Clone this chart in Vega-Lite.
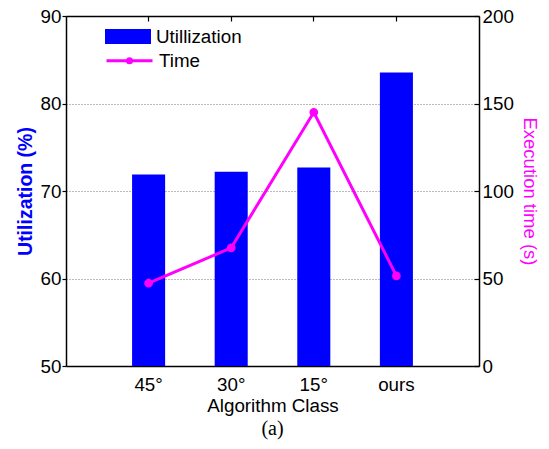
{
  "$schema": "https://vega.github.io/schema/vega-lite/v6.json",
  "width": 413,
  "height": 350,
  "autosize": {"type": "none"},
  "padding": {"left": 66, "top": 16, "right": 70, "bottom": 83},
  "background": "white",
  "config": {
    "font": "Liberation Sans",
    "view": {"stroke": null},
    "axis": {
      "labelFont": "Liberation Sans",
      "titleFont": "Liberation Sans",
      "labelFontSize": 18.8,
      "titleFontSize": 18.8,
      "labelColor": "black",
      "titleColor": "black",
      "domainColor": "black",
      "domainWidth": 1.5,
      "tickColor": "black",
      "tickWidth": 1.2,
      "titleFontWeight": "normal"
    },
    "legend": {
      "labelFont": "Liberation Sans",
      "labelFontSize": 18.8,
      "labelColor": "black",
      "padding": 0
    }
  },
  "title": {
    "text": "(a)",
    "orient": "bottom",
    "font": "Liberation Serif",
    "fontSize": 20,
    "fontWeight": "normal",
    "color": "black",
    "offset": 3
  },
  "data": {
    "values": [
      {"cls": "45°", "util": 71.9, "time": 47.3},
      {"cls": "30°", "util": 72.2, "time": 67.5},
      {"cls": "15°", "util": 72.7, "time": 145},
      {"cls": "ours", "util": 83.55, "time": 51.5}
    ]
  },
  "encoding": {
    "x": {
      "field": "cls",
      "type": "nominal",
      "sort": null,
      "scale": {"paddingInner": 0.6, "paddingOuter": 0.8}
    }
  },
  "layer": [
    {
      "mark": {"type": "bar", "color": "#0000FF"},
      "encoding": {
        "x": {
          "field": "cls",
          "type": "nominal",
          "sort": null,
          "axis": {
            "orient": "bottom",
            "labelAngle": 0,
            "ticks": false,
            "labelPadding": 9,
            "title": "Algorithm Class",
            "titlePadding": 3
          }
        },
        "y": {
          "field": "util",
          "type": "quantitative",
          "scale": {"domain": [50, 90], "zero": false, "nice": false},
          "axis": {
            "orient": "left",
            "values": [50, 60, 70, 80, 90],
            "grid": true,
            "gridDash": [1, 2],
            "gridColor": "#777777",
            "gridWidth": 1,
            "tickSize": 4,
            "labelPadding": 1,
            "title": "Utilization (%)",
            "titleColor": "#0000FF",
            "titleFontWeight": "bold",
            "titleFontSize": 19.5,
            "titlePadding": 5
          }
        },
        "y2": {"datum": 50},
        "fill": {
          "datum": "Utillization",
          "scale": {"range": ["#0000FF"]},
          "legend": {
            "orient": "none",
            "legendX": 39,
            "legendY": -2.5,
            "title": null,
            "symbolType": "M-1,-0.326H1V0.326H-1Z",
            "symbolSize": 2116,
            "symbolStrokeWidth": 0,
            "labelOffset": 5
          }
        }
      }
    },
    {
      "mark": {
        "type": "line",
        "color": "#FF00FF",
        "strokeWidth": 3,
        "point": {"filled": true, "size": 45, "color": "#FF00FF"}
      },
      "encoding": {
        "x": {
          "field": "cls",
          "type": "nominal",
          "sort": null,
          "axis": {
            "orient": "top",
            "labels": false,
            "title": null,
            "tickSize": -5,
            "domainWidth": 1.5
          }
        },
        "y": {
          "field": "time",
          "type": "quantitative",
          "scale": {"domain": [0, 200], "nice": false},
          "axis": {
            "orient": "right",
            "values": [0, 50, 100, 150, 200],
            "grid": false,
            "tickSize": -5,
            "labelPadding": 8,
            "title": "Execution time (s)",
            "titleColor": "#FF00FF",
            "titleFontSize": 18.5,
            "titlePadding": 6
          }
        },
        "stroke": {
          "datum": "Time",
          "scale": {"range": ["#FF00FF"]},
          "legend": {
            "orient": "none",
            "legendX": 39,
            "legendY": 20.3,
            "title": null,
            "symbolType": "M-1,0H1M-0.09,0a0.09,0.09 0 1,0 0.18,0a0.09,0.09 0 1,0 -0.18,0",
            "symbolSize": 2116,
            "symbolStrokeWidth": 3,
            "symbolFillColor": "#FF00FF",
            "labelOffset": 5
          }
        }
      }
    }
  ],
  "resolve": {
    "scale": {"y": "independent"},
    "axis": {"x": "independent", "y": "independent"}
  }
}
